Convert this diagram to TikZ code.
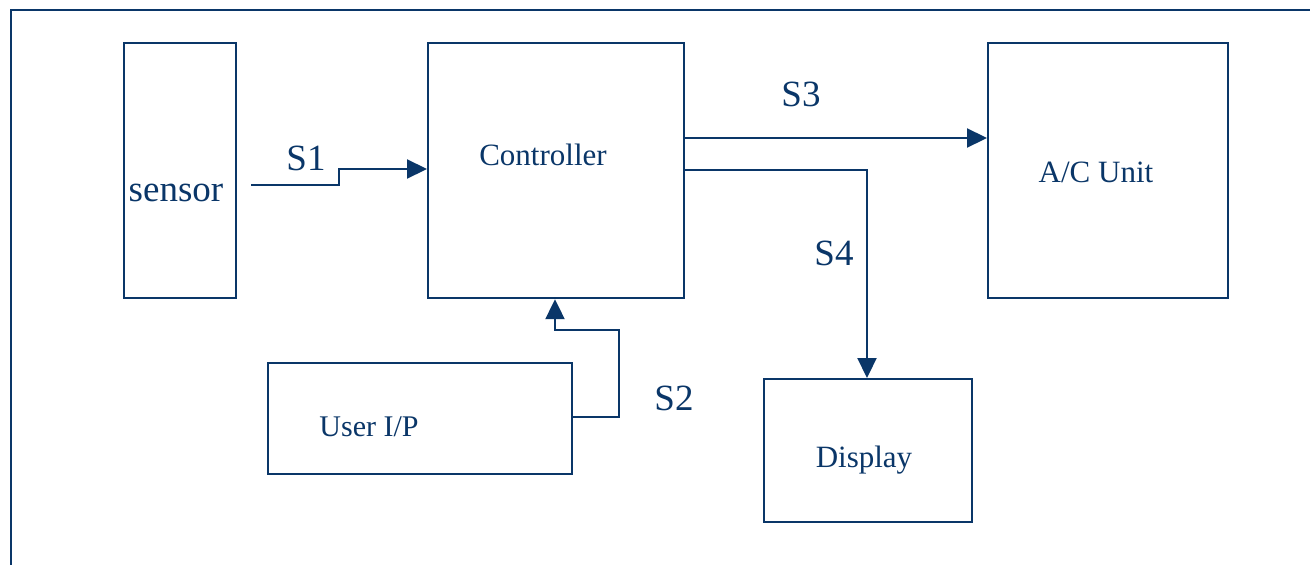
\documentclass[tikz,border=0pt]{standalone}
\usepackage{fontspec}
\setmainfont{Liberation Serif}
\usetikzlibrary{arrows.meta}
\definecolor{navy}{RGB}{10,54,104}
\tikzset{
  blk/.style={draw=navy, line width=2.2pt, inner sep=0pt, anchor=north west},
  lbl/.style={text=navy, inner sep=0pt, font=\fontsize{31}{36}\selectfont},
  sig/.style={text=navy, inner sep=0pt, font=\fontsize{37}{42}\selectfont},
  wire/.style={draw=navy, line width=2.2pt},
  flow/.style={wire, -{Triangle[length=20pt,width=19pt]}}
}
\begin{document}
\begin{tikzpicture}[x=1pt,y=-1pt]
\useasboundingbox (0,0) rectangle (1310,565);
% frame open at bottom and right
\draw[navy, line width=2.5pt] (11,566) -- (11,10) -- (1311,10);

% blocks
\node[blk, minimum width=112pt, minimum height=255pt] (sensor) at (123,42) {};
\node[blk, minimum width=256pt, minimum height=255pt] (ctrl) at (427,42) {};
\node[blk, minimum width=240pt, minimum height=255pt] (ac) at (987,42) {};
\node[blk, minimum width=304pt, minimum height=111pt] (user) at (267,362) {};
\node[blk, minimum width=208pt, minimum height=143pt] (disp) at (763,378) {};

% block texts
\node[lbl, font=\fontsize{37}{42}\selectfont] (sensorT) at (176,193) {sensor};
\node[lbl] (ctrlT) at (543,155) {Controller};
\node[lbl] (acT) at (1096,172) {A/C Unit};
\node[lbl, font=\fontsize{30}{36}\selectfont] (userT) at (369,427) {User I/P};
\node[lbl] (dispT) at (864,460) {Display};

% S1: sensor -> controller
\coordinate (s1a) at (251,185);
\coordinate (s1b) at (339,185);
\draw[flow] (s1a) -- (s1b) -- (339,169) -- (ctrl.west |- 0,169);
\node[sig] (S1) at (306,158) {S1};

% S2: user input -> controller
\draw[flow] (user.east |- 0,417) -- (619,417) -- (619,330) -- (555,330) -- (ctrl.south -| 555,0);
\node[sig] (S2) at (674,398) {S2};

% S3: controller -> A/C unit
\draw[flow] (ctrl.east |- 0,138) -- (ac.west |- 0,138);
\node[sig] (S3) at (801,94) {S3};

% S4: controller -> display
\draw[flow] (ctrl.east |- 0,170) -- (867,170) -- (disp.north -| 867,0);
\node[sig] (S4) at (834,253) {S4};
\end{tikzpicture}
\end{document}
